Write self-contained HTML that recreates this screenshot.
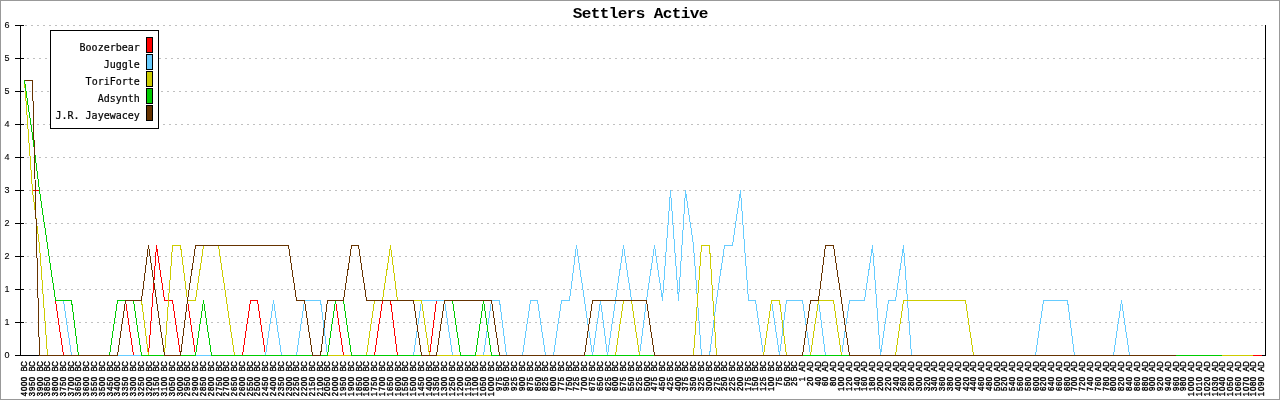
<!DOCTYPE html>
<html lang="en">
<head>
<meta charset="utf-8">
<title>Settlers Active</title>
<style>
html,body{margin:0;padding:0;background:#fff;}
body{width:1280px;height:400px;overflow:hidden;position:relative;}
svg{position:absolute;left:0;top:0;display:block;}
.t{font-family:"Liberation Mono","DejaVu Sans Mono",monospace;font-weight:bold;font-size:15px;fill:#000;letter-spacing:-0.59px;}
.l{font-family:"DejaVu Sans Mono","Liberation Mono",monospace;font-size:10px;fill:#000;stroke:#000;stroke-width:0.2px;}
.y{font-family:"Liberation Sans","DejaVu Sans Condensed",sans-serif;font-size:9px;fill:#000;stroke:#000;stroke-width:0.1px;text-anchor:middle;}
.x{font-family:"Liberation Sans","DejaVu Sans Condensed",sans-serif;font-size:8.5px;fill:#000;stroke:#000;stroke-width:0.4px;text-anchor:middle;}
</style>
</head>
<body>
<svg width="1280" height="400" viewBox="0 0 1280 400">
<rect x="0" y="0" width="1280" height="400" fill="#ffffff"/>
<rect x="0.5" y="0.5" width="1279" height="399" fill="none" stroke="#999999" stroke-width="1" shape-rendering="crispEdges"/>
<text class="t" transform="translate(640.2,18) scale(1.07,1)" x="0" y="0" text-anchor="middle">Settlers Active</text>
<g stroke="#c0c0c0" stroke-width="1" stroke-dasharray="2 4" shape-rendering="crispEdges">
<line x1="25" y1="25.5" x2="1265" y2="25.5" stroke-dashoffset="0"/>
<line x1="25" y1="58.5" x2="1265" y2="58.5" stroke-dashoffset="4"/>
<line x1="25" y1="91.5" x2="1265" y2="91.5" stroke-dashoffset="2"/>
<line x1="25" y1="124.5" x2="1265" y2="124.5" stroke-dashoffset="0"/>
<line x1="25" y1="157.5" x2="1265" y2="157.5" stroke-dashoffset="4"/>
<line x1="25" y1="190.5" x2="1265" y2="190.5" stroke-dashoffset="2"/>
<line x1="25" y1="223.5" x2="1265" y2="223.5" stroke-dashoffset="0"/>
<line x1="25" y1="256.5" x2="1265" y2="256.5" stroke-dashoffset="4"/>
<line x1="25" y1="289.5" x2="1265" y2="289.5" stroke-dashoffset="2"/>
<line x1="25" y1="322.5" x2="1265" y2="322.5" stroke-dashoffset="0"/>
</g>
<g stroke="#000000" stroke-width="1" shape-rendering="crispEdges" fill="none">
<line x1="20.5" y1="25" x2="20.5" y2="356"/>
<line x1="1265.5" y1="25" x2="1265.5" y2="356"/>
<line x1="15" y1="355.5" x2="1266" y2="355.5"/>
<line x1="15" y1="25.5" x2="24" y2="25.5"/>
<line x1="15" y1="58.5" x2="24" y2="58.5"/>
<line x1="15" y1="91.5" x2="24" y2="91.5"/>
<line x1="15" y1="124.5" x2="24" y2="124.5"/>
<line x1="15" y1="157.5" x2="24" y2="157.5"/>
<line x1="15" y1="190.5" x2="24" y2="190.5"/>
<line x1="15" y1="223.5" x2="24" y2="223.5"/>
<line x1="15" y1="256.5" x2="24" y2="256.5"/>
<line x1="15" y1="289.5" x2="24" y2="289.5"/>
<line x1="15" y1="322.5" x2="24" y2="322.5"/>
<line x1="15" y1="355.5" x2="24" y2="355.5"/>
</g>
<g>
<text class="y" x="7" y="28">6</text>
<text class="y" x="7" y="61">5</text>
<text class="y" x="7" y="94">5</text>
<text class="y" x="7" y="127">4</text>
<text class="y" x="7" y="160">4</text>
<text class="y" x="7" y="193">3</text>
<text class="y" x="7" y="226">2</text>
<text class="y" x="7" y="259">2</text>
<text class="y" x="7" y="292">1</text>
<text class="y" x="7" y="325">1</text>
<text class="y" x="7" y="358">0</text>
</g>
<g fill="none" stroke-width="1" shape-rendering="crispEdges" stroke-linejoin="miter">
<polyline stroke="#ff0000" points="24.5,80.5 32.5,190.5 39.5,190.5 47.5,245.5 55.5,300.5 63.5,355.5 71.5,355.5 78.5,355.5 86.5,355.5 94.5,355.5 102.5,355.5 109.5,355.5 117.5,355.5 125.5,300.5 133.5,355.5 141.5,355.5 148.5,355.5 156.5,245.5 164.5,300.5 172.5,300.5 180.5,355.5 187.5,300.5 195.5,355.5 203.5,355.5 211.5,355.5 218.5,355.5 226.5,355.5 234.5,355.5 242.5,355.5 250.5,300.5 257.5,300.5 265.5,355.5 273.5,355.5 281.5,355.5 288.5,355.5 296.5,355.5 304.5,355.5 312.5,355.5 320.5,355.5 327.5,355.5 335.5,300.5 343.5,355.5 351.5,355.5 358.5,355.5 366.5,355.5 374.5,355.5 382.5,300.5 390.5,300.5 397.5,355.5 405.5,355.5 413.5,355.5 421.5,355.5 429.5,355.5 436.5,300.5 444.5,300.5 452.5,355.5 460.5,355.5 467.5,355.5 475.5,355.5 483.5,355.5 491.5,355.5 499.5,355.5 506.5,355.5 514.5,355.5 522.5,355.5 530.5,355.5 537.5,355.5 545.5,355.5 553.5,355.5 561.5,355.5 569.5,355.5 576.5,355.5 584.5,355.5 592.5,355.5 600.5,355.5 607.5,355.5 615.5,355.5 623.5,355.5 631.5,355.5 639.5,355.5 646.5,355.5 654.5,355.5 662.5,355.5 670.5,355.5 678.5,355.5 685.5,355.5 693.5,355.5 701.5,355.5 709.5,355.5 716.5,355.5 724.5,355.5 732.5,355.5 740.5,355.5 748.5,355.5 755.5,355.5 763.5,355.5 771.5,355.5 779.5,355.5 786.5,355.5 794.5,355.5 802.5,355.5 810.5,355.5 818.5,355.5 825.5,355.5 833.5,355.5 841.5,355.5 849.5,355.5 856.5,355.5 864.5,355.5 872.5,355.5 880.5,355.5 888.5,355.5 895.5,355.5 903.5,355.5 911.5,355.5 919.5,355.5 927.5,355.5 934.5,355.5 942.5,355.5 950.5,355.5 958.5,355.5 965.5,355.5 973.5,355.5 981.5,355.5 989.5,355.5 997.5,355.5 1004.5,355.5 1012.5,355.5 1020.5,355.5 1028.5,355.5 1035.5,355.5 1043.5,355.5 1051.5,355.5 1059.5,355.5 1067.5,355.5 1074.5,355.5 1082.5,355.5 1090.5,355.5 1098.5,355.5 1105.5,355.5 1113.5,355.5 1121.5,355.5 1129.5,355.5 1137.5,355.5 1144.5,355.5 1152.5,355.5 1160.5,355.5 1168.5,355.5 1176.5,355.5 1183.5,355.5 1191.5,355.5 1199.5,355.5 1207.5,355.5 1214.5,355.5 1222.5,355.5 1230.5,355.5 1238.5,355.5 1246.5,355.5 1253.5,355.5 1261.5,355.5"/>
<polyline stroke="#66ccff" points="24.5,80.5 32.5,135.5 39.5,190.5 47.5,245.5 55.5,300.5 63.5,300.5 71.5,355.5 78.5,355.5 86.5,355.5 94.5,355.5 102.5,355.5 109.5,355.5 117.5,355.5 125.5,355.5 133.5,355.5 141.5,355.5 148.5,355.5 156.5,355.5 164.5,355.5 172.5,355.5 180.5,355.5 187.5,355.5 195.5,355.5 203.5,355.5 211.5,355.5 218.5,355.5 226.5,355.5 234.5,355.5 242.5,355.5 250.5,355.5 257.5,355.5 265.5,355.5 273.5,300.5 281.5,355.5 288.5,355.5 296.5,355.5 304.5,300.5 312.5,300.5 320.5,300.5 327.5,355.5 335.5,355.5 343.5,355.5 351.5,355.5 358.5,355.5 366.5,355.5 374.5,355.5 382.5,355.5 390.5,355.5 397.5,355.5 405.5,355.5 413.5,355.5 421.5,300.5 429.5,300.5 436.5,300.5 444.5,300.5 452.5,355.5 460.5,355.5 467.5,355.5 475.5,355.5 483.5,355.5 491.5,300.5 499.5,300.5 506.5,355.5 514.5,355.5 522.5,355.5 530.5,300.5 537.5,300.5 545.5,355.5 553.5,355.5 561.5,300.5 569.5,300.5 576.5,245.5 584.5,300.5 592.5,355.5 600.5,300.5 607.5,355.5 615.5,300.5 623.5,245.5 631.5,300.5 639.5,355.5 646.5,300.5 654.5,245.5 662.5,300.5 670.5,190.5 678.5,300.5 685.5,190.5 693.5,245.5 701.5,355.5 709.5,355.5 716.5,300.5 724.5,245.5 732.5,245.5 740.5,190.5 748.5,300.5 755.5,300.5 763.5,355.5 771.5,300.5 779.5,355.5 786.5,300.5 794.5,300.5 802.5,300.5 810.5,355.5 818.5,300.5 825.5,355.5 833.5,355.5 841.5,355.5 849.5,300.5 856.5,300.5 864.5,300.5 872.5,245.5 880.5,355.5 888.5,300.5 895.5,300.5 903.5,245.5 911.5,355.5 919.5,355.5 927.5,355.5 934.5,355.5 942.5,355.5 950.5,355.5 958.5,355.5 965.5,355.5 973.5,355.5 981.5,355.5 989.5,355.5 997.5,355.5 1004.5,355.5 1012.5,355.5 1020.5,355.5 1028.5,355.5 1035.5,355.5 1043.5,300.5 1051.5,300.5 1059.5,300.5 1067.5,300.5 1074.5,355.5 1082.5,355.5 1090.5,355.5 1098.5,355.5 1105.5,355.5 1113.5,355.5 1121.5,300.5 1129.5,355.5 1137.5,355.5 1144.5,355.5 1152.5,355.5 1160.5,355.5 1168.5,355.5 1176.5,355.5 1183.5,355.5 1191.5,355.5 1199.5,355.5 1207.5,355.5 1214.5,355.5 1222.5,355.5 1230.5,355.5 1238.5,355.5 1246.5,355.5 1252.5,355.5"/>
<polyline stroke="#cccc00" points="24.5,80.5 32.5,190.5 39.5,245.5 47.5,355.5 55.5,355.5 63.5,355.5 71.5,355.5 78.5,355.5 86.5,355.5 94.5,355.5 102.5,355.5 109.5,355.5 117.5,300.5 125.5,300.5 133.5,300.5 141.5,300.5 148.5,355.5 156.5,355.5 164.5,355.5 172.5,245.5 180.5,245.5 187.5,300.5 195.5,300.5 203.5,245.5 211.5,245.5 218.5,245.5 226.5,300.5 234.5,355.5 242.5,355.5 250.5,355.5 257.5,355.5 265.5,355.5 273.5,355.5 281.5,355.5 288.5,355.5 296.5,355.5 304.5,355.5 312.5,355.5 320.5,355.5 327.5,355.5 335.5,355.5 343.5,355.5 351.5,355.5 358.5,355.5 366.5,355.5 374.5,300.5 382.5,300.5 390.5,245.5 397.5,300.5 405.5,300.5 413.5,300.5 421.5,300.5 429.5,355.5 436.5,355.5 444.5,355.5 452.5,355.5 460.5,355.5 467.5,355.5 475.5,355.5 483.5,355.5 491.5,355.5 499.5,355.5 506.5,355.5 514.5,355.5 522.5,355.5 530.5,355.5 537.5,355.5 545.5,355.5 553.5,355.5 561.5,355.5 569.5,355.5 576.5,355.5 584.5,355.5 592.5,355.5 600.5,355.5 607.5,355.5 615.5,355.5 623.5,300.5 631.5,300.5 639.5,355.5 646.5,355.5 654.5,355.5 662.5,355.5 670.5,355.5 678.5,355.5 685.5,355.5 693.5,355.5 701.5,245.5 709.5,245.5 716.5,355.5 724.5,355.5 732.5,355.5 740.5,355.5 748.5,355.5 755.5,355.5 763.5,355.5 771.5,300.5 779.5,300.5 786.5,355.5 794.5,355.5 802.5,355.5 810.5,355.5 818.5,300.5 825.5,300.5 833.5,300.5 841.5,355.5 849.5,355.5 856.5,355.5 864.5,355.5 872.5,355.5 880.5,355.5 888.5,355.5 895.5,355.5 903.5,300.5 911.5,300.5 919.5,300.5 927.5,300.5 934.5,300.5 942.5,300.5 950.5,300.5 958.5,300.5 965.5,300.5 973.5,355.5 981.5,355.5 989.5,355.5 997.5,355.5 1004.5,355.5 1012.5,355.5 1020.5,355.5 1028.5,355.5 1035.5,355.5 1043.5,355.5 1051.5,355.5 1059.5,355.5 1067.5,355.5 1074.5,355.5 1082.5,355.5 1090.5,355.5 1098.5,355.5 1105.5,355.5 1113.5,355.5 1121.5,355.5 1129.5,355.5 1137.5,355.5 1144.5,355.5 1152.5,355.5 1160.5,355.5 1168.5,355.5 1176.5,355.5 1183.5,355.5 1191.5,355.5 1199.5,355.5 1207.5,355.5 1214.5,355.5 1222.5,355.5 1230.5,355.5 1238.5,355.5 1246.5,355.5 1252.5,355.5"/>
<polyline stroke="#00cc00" points="24.5,80.5 32.5,135.5 39.5,190.5 47.5,245.5 55.5,300.5 63.5,300.5 71.5,300.5 78.5,355.5 86.5,355.5 94.5,355.5 102.5,355.5 109.5,355.5 117.5,300.5 125.5,300.5 133.5,300.5 141.5,355.5 148.5,355.5 156.5,355.5 164.5,355.5 172.5,355.5 180.5,355.5 187.5,355.5 195.5,355.5 203.5,300.5 211.5,355.5 218.5,355.5 226.5,355.5 234.5,355.5 242.5,355.5 250.5,355.5 257.5,355.5 265.5,355.5 273.5,355.5 281.5,355.5 288.5,355.5 296.5,355.5 304.5,355.5 312.5,355.5 320.5,355.5 327.5,355.5 335.5,300.5 343.5,300.5 351.5,355.5 358.5,355.5 366.5,355.5 374.5,355.5 382.5,355.5 390.5,355.5 397.5,355.5 405.5,355.5 413.5,355.5 421.5,355.5 429.5,355.5 436.5,355.5 444.5,300.5 452.5,300.5 460.5,355.5 467.5,355.5 475.5,355.5 483.5,300.5 491.5,355.5 499.5,355.5 506.5,355.5 514.5,355.5 522.5,355.5 530.5,355.5 537.5,355.5 545.5,355.5 553.5,355.5 561.5,355.5 569.5,355.5 576.5,355.5 584.5,355.5 592.5,355.5 600.5,355.5 607.5,355.5 615.5,355.5 623.5,355.5 631.5,355.5 639.5,355.5 646.5,355.5 654.5,355.5 662.5,355.5 670.5,355.5 678.5,355.5 685.5,355.5 693.5,355.5 701.5,355.5 709.5,355.5 716.5,355.5 724.5,355.5 732.5,355.5 740.5,355.5 748.5,355.5 755.5,355.5 763.5,355.5 771.5,355.5 779.5,355.5 786.5,355.5 794.5,355.5 802.5,355.5 810.5,355.5 818.5,355.5 825.5,355.5 833.5,355.5 841.5,355.5 849.5,355.5 856.5,355.5 864.5,355.5 872.5,355.5 880.5,355.5 888.5,355.5 895.5,355.5 903.5,355.5 911.5,355.5 919.5,355.5 927.5,355.5 934.5,355.5 942.5,355.5 950.5,355.5 958.5,355.5 965.5,355.5 973.5,355.5 981.5,355.5 989.5,355.5 997.5,355.5 1004.5,355.5 1012.5,355.5 1020.5,355.5 1028.5,355.5 1035.5,355.5 1043.5,355.5 1051.5,355.5 1059.5,355.5 1067.5,355.5 1074.5,355.5 1082.5,355.5 1090.5,355.5 1098.5,355.5 1105.5,355.5 1113.5,355.5 1121.5,355.5 1129.5,355.5 1137.5,355.5 1144.5,355.5 1152.5,355.5 1160.5,355.5 1168.5,355.5 1176.5,355.5 1183.5,355.5 1191.5,355.5 1199.5,355.5 1207.5,355.5 1214.5,355.5 1221.5,355.5"/>
<polyline stroke="#663300" points="24.5,80.5 32.5,80.5 39.5,355.5 47.5,355.5 55.5,355.5 63.5,355.5 71.5,355.5 78.5,355.5 86.5,355.5 94.5,355.5 102.5,355.5 109.5,355.5 117.5,355.5 125.5,300.5 133.5,300.5 141.5,300.5 148.5,245.5 156.5,300.5 164.5,355.5 172.5,355.5 180.5,355.5 187.5,300.5 195.5,245.5 203.5,245.5 211.5,245.5 218.5,245.5 226.5,245.5 234.5,245.5 242.5,245.5 250.5,245.5 257.5,245.5 265.5,245.5 273.5,245.5 281.5,245.5 288.5,245.5 296.5,300.5 304.5,300.5 312.5,355.5 320.5,355.5 327.5,300.5 335.5,300.5 343.5,300.5 351.5,245.5 358.5,245.5 366.5,300.5 374.5,300.5 382.5,300.5 390.5,300.5 397.5,300.5 405.5,300.5 413.5,300.5 421.5,355.5 429.5,355.5 436.5,355.5 444.5,300.5 452.5,300.5 460.5,300.5 467.5,300.5 475.5,300.5 483.5,300.5 491.5,300.5 499.5,355.5 506.5,355.5 514.5,355.5 522.5,355.5 530.5,355.5 537.5,355.5 545.5,355.5 553.5,355.5 561.5,355.5 569.5,355.5 576.5,355.5 584.5,355.5 592.5,300.5 600.5,300.5 607.5,300.5 615.5,300.5 623.5,300.5 631.5,300.5 639.5,300.5 646.5,300.5 654.5,355.5 662.5,355.5 670.5,355.5 678.5,355.5 685.5,355.5 693.5,355.5 701.5,355.5 709.5,355.5 716.5,355.5 724.5,355.5 732.5,355.5 740.5,355.5 748.5,355.5 755.5,355.5 763.5,355.5 771.5,355.5 779.5,355.5 786.5,355.5 794.5,355.5 802.5,355.5 810.5,300.5 818.5,300.5 825.5,245.5 833.5,245.5 841.5,300.5 849.5,355.5 856.5,355.5 864.5,355.5 872.5,355.5 880.5,355.5 888.5,355.5 895.5,355.5 903.5,355.5 911.5,355.5 919.5,355.5 927.5,355.5 934.5,355.5 942.5,355.5 950.5,355.5 958.5,355.5 965.5,355.5 973.5,355.5 981.5,355.5 989.5,355.5 997.5,355.5 1004.5,355.5 1012.5,355.5 1020.5,355.5 1028.5,355.5 1035.5,355.5 1043.5,355.5 1051.5,355.5 1059.5,355.5 1067.5,355.5 1074.5,355.5 1082.5,355.5 1090.5,355.5 1098.5,355.5 1105.5,355.5 1113.5,355.5 1121.5,355.5 1129.5,355.5 1137.5,355.5 1144.5,355.5 1152.5,355.5 1160.5,355.5 1168.5,355.5 1175.5,355.5"/>
</g>
<g shape-rendering="crispEdges">
<rect x="50.5" y="30.5" width="108" height="98" fill="#ffffff" stroke="#000000" stroke-width="1"/>
<rect x="146.5" y="37.5" width="6" height="15" fill="#ff0000" stroke="#000000" stroke-width="1"/>
<rect x="146.5" y="54.5" width="6" height="15" fill="#66ccff" stroke="#000000" stroke-width="1"/>
<rect x="146.5" y="71.5" width="6" height="15" fill="#cccc00" stroke="#000000" stroke-width="1"/>
<rect x="146.5" y="88.5" width="6" height="15" fill="#00cc00" stroke="#000000" stroke-width="1"/>
<rect x="146.5" y="105.5" width="6" height="15" fill="#663300" stroke="#000000" stroke-width="1"/>
</g>
<g>
<text class="l" x="139.8" y="51" text-anchor="end">Boozerbear</text>
<text class="l" x="139.8" y="68" text-anchor="end">Juggle</text>
<text class="l" x="139.8" y="85" text-anchor="end">ToriForte</text>
<text class="l" x="139.8" y="102" text-anchor="end">Adsynth</text>
<text class="l" x="139.8" y="119" text-anchor="end">J.R. Jayewacey</text>
</g>
<g>
<text class="x" transform="translate(26.90,362) rotate(-90) scale(0.9,1)" x="-35.56 -30.00 -24.44 -18.89 -13.33 -7.78 -2.22">4000 BC</text>
<text class="x" transform="translate(34.90,362) rotate(-90) scale(0.9,1)" x="-35.56 -30.00 -24.44 -18.89 -13.33 -7.78 -2.22">3950 BC</text>
<text class="x" transform="translate(42.90,362) rotate(-90) scale(0.9,1)" x="-35.56 -30.00 -24.44 -18.89 -13.33 -7.78 -2.22">3900 BC</text>
<text class="x" transform="translate(49.90,362) rotate(-90) scale(0.9,1)" x="-35.56 -30.00 -24.44 -18.89 -13.33 -7.78 -2.22">3850 BC</text>
<text class="x" transform="translate(57.90,362) rotate(-90) scale(0.9,1)" x="-35.56 -30.00 -24.44 -18.89 -13.33 -7.78 -2.22">3800 BC</text>
<text class="x" transform="translate(65.90,362) rotate(-90) scale(0.9,1)" x="-35.56 -30.00 -24.44 -18.89 -13.33 -7.78 -2.22">3750 BC</text>
<text class="x" transform="translate(73.90,362) rotate(-90) scale(0.9,1)" x="-35.56 -30.00 -24.44 -18.89 -13.33 -7.78 -2.22">3700 BC</text>
<text class="x" transform="translate(80.90,362) rotate(-90) scale(0.9,1)" x="-35.56 -30.00 -24.44 -18.89 -13.33 -7.78 -2.22">3650 BC</text>
<text class="x" transform="translate(88.90,362) rotate(-90) scale(0.9,1)" x="-35.56 -30.00 -24.44 -18.89 -13.33 -7.78 -2.22">3600 BC</text>
<text class="x" transform="translate(96.90,362) rotate(-90) scale(0.9,1)" x="-35.56 -30.00 -24.44 -18.89 -13.33 -7.78 -2.22">3550 BC</text>
<text class="x" transform="translate(104.90,362) rotate(-90) scale(0.9,1)" x="-35.56 -30.00 -24.44 -18.89 -13.33 -7.78 -2.22">3500 BC</text>
<text class="x" transform="translate(112.90,362) rotate(-90) scale(0.9,1)" x="-35.56 -30.00 -24.44 -18.89 -13.33 -7.78 -2.22">3450 BC</text>
<text class="x" transform="translate(119.90,362) rotate(-90) scale(0.9,1)" x="-35.56 -30.00 -24.44 -18.89 -13.33 -7.78 -2.22">3400 BC</text>
<text class="x" transform="translate(127.90,362) rotate(-90) scale(0.9,1)" x="-35.56 -30.00 -24.44 -18.89 -13.33 -7.78 -2.22">3350 BC</text>
<text class="x" transform="translate(135.90,362) rotate(-90) scale(0.9,1)" x="-35.56 -30.00 -24.44 -18.89 -13.33 -7.78 -2.22">3300 BC</text>
<text class="x" transform="translate(143.90,362) rotate(-90) scale(0.9,1)" x="-35.56 -30.00 -24.44 -18.89 -13.33 -7.78 -2.22">3250 BC</text>
<text class="x" transform="translate(151.90,362) rotate(-90) scale(0.9,1)" x="-35.56 -30.00 -24.44 -18.89 -13.33 -7.78 -2.22">3200 BC</text>
<text class="x" transform="translate(158.90,362) rotate(-90) scale(0.9,1)" x="-35.56 -30.00 -24.44 -18.89 -13.33 -7.78 -2.22">3150 BC</text>
<text class="x" transform="translate(166.90,362) rotate(-90) scale(0.9,1)" x="-35.56 -30.00 -24.44 -18.89 -13.33 -7.78 -2.22">3100 BC</text>
<text class="x" transform="translate(174.90,362) rotate(-90) scale(0.9,1)" x="-35.56 -30.00 -24.44 -18.89 -13.33 -7.78 -2.22">3050 BC</text>
<text class="x" transform="translate(182.90,362) rotate(-90) scale(0.9,1)" x="-35.56 -30.00 -24.44 -18.89 -13.33 -7.78 -2.22">3000 BC</text>
<text class="x" transform="translate(189.90,362) rotate(-90) scale(0.9,1)" x="-35.56 -30.00 -24.44 -18.89 -13.33 -7.78 -2.22">2950 BC</text>
<text class="x" transform="translate(197.90,362) rotate(-90) scale(0.9,1)" x="-35.56 -30.00 -24.44 -18.89 -13.33 -7.78 -2.22">2900 BC</text>
<text class="x" transform="translate(205.90,362) rotate(-90) scale(0.9,1)" x="-35.56 -30.00 -24.44 -18.89 -13.33 -7.78 -2.22">2850 BC</text>
<text class="x" transform="translate(213.90,362) rotate(-90) scale(0.9,1)" x="-35.56 -30.00 -24.44 -18.89 -13.33 -7.78 -2.22">2800 BC</text>
<text class="x" transform="translate(221.90,362) rotate(-90) scale(0.9,1)" x="-35.56 -30.00 -24.44 -18.89 -13.33 -7.78 -2.22">2750 BC</text>
<text class="x" transform="translate(228.90,362) rotate(-90) scale(0.9,1)" x="-35.56 -30.00 -24.44 -18.89 -13.33 -7.78 -2.22">2700 BC</text>
<text class="x" transform="translate(236.90,362) rotate(-90) scale(0.9,1)" x="-35.56 -30.00 -24.44 -18.89 -13.33 -7.78 -2.22">2650 BC</text>
<text class="x" transform="translate(244.90,362) rotate(-90) scale(0.9,1)" x="-35.56 -30.00 -24.44 -18.89 -13.33 -7.78 -2.22">2600 BC</text>
<text class="x" transform="translate(252.90,362) rotate(-90) scale(0.9,1)" x="-35.56 -30.00 -24.44 -18.89 -13.33 -7.78 -2.22">2550 BC</text>
<text class="x" transform="translate(259.90,362) rotate(-90) scale(0.9,1)" x="-35.56 -30.00 -24.44 -18.89 -13.33 -7.78 -2.22">2500 BC</text>
<text class="x" transform="translate(267.90,362) rotate(-90) scale(0.9,1)" x="-35.56 -30.00 -24.44 -18.89 -13.33 -7.78 -2.22">2450 BC</text>
<text class="x" transform="translate(275.90,362) rotate(-90) scale(0.9,1)" x="-35.56 -30.00 -24.44 -18.89 -13.33 -7.78 -2.22">2400 BC</text>
<text class="x" transform="translate(283.90,362) rotate(-90) scale(0.9,1)" x="-35.56 -30.00 -24.44 -18.89 -13.33 -7.78 -2.22">2350 BC</text>
<text class="x" transform="translate(291.90,362) rotate(-90) scale(0.9,1)" x="-35.56 -30.00 -24.44 -18.89 -13.33 -7.78 -2.22">2300 BC</text>
<text class="x" transform="translate(298.90,362) rotate(-90) scale(0.9,1)" x="-35.56 -30.00 -24.44 -18.89 -13.33 -7.78 -2.22">2250 BC</text>
<text class="x" transform="translate(306.90,362) rotate(-90) scale(0.9,1)" x="-35.56 -30.00 -24.44 -18.89 -13.33 -7.78 -2.22">2200 BC</text>
<text class="x" transform="translate(314.90,362) rotate(-90) scale(0.9,1)" x="-35.56 -30.00 -24.44 -18.89 -13.33 -7.78 -2.22">2150 BC</text>
<text class="x" transform="translate(322.90,362) rotate(-90) scale(0.9,1)" x="-35.56 -30.00 -24.44 -18.89 -13.33 -7.78 -2.22">2100 BC</text>
<text class="x" transform="translate(329.90,362) rotate(-90) scale(0.9,1)" x="-35.56 -30.00 -24.44 -18.89 -13.33 -7.78 -2.22">2050 BC</text>
<text class="x" transform="translate(337.90,362) rotate(-90) scale(0.9,1)" x="-35.56 -30.00 -24.44 -18.89 -13.33 -7.78 -2.22">2000 BC</text>
<text class="x" transform="translate(345.90,362) rotate(-90) scale(0.9,1)" x="-35.56 -30.00 -24.44 -18.89 -13.33 -7.78 -2.22">1950 BC</text>
<text class="x" transform="translate(353.90,362) rotate(-90) scale(0.9,1)" x="-35.56 -30.00 -24.44 -18.89 -13.33 -7.78 -2.22">1900 BC</text>
<text class="x" transform="translate(361.90,362) rotate(-90) scale(0.9,1)" x="-35.56 -30.00 -24.44 -18.89 -13.33 -7.78 -2.22">1850 BC</text>
<text class="x" transform="translate(368.90,362) rotate(-90) scale(0.9,1)" x="-35.56 -30.00 -24.44 -18.89 -13.33 -7.78 -2.22">1800 BC</text>
<text class="x" transform="translate(376.90,362) rotate(-90) scale(0.9,1)" x="-35.56 -30.00 -24.44 -18.89 -13.33 -7.78 -2.22">1750 BC</text>
<text class="x" transform="translate(384.90,362) rotate(-90) scale(0.9,1)" x="-35.56 -30.00 -24.44 -18.89 -13.33 -7.78 -2.22">1700 BC</text>
<text class="x" transform="translate(392.90,362) rotate(-90) scale(0.9,1)" x="-35.56 -30.00 -24.44 -18.89 -13.33 -7.78 -2.22">1650 BC</text>
<text class="x" transform="translate(400.90,362) rotate(-90) scale(0.9,1)" x="-35.56 -30.00 -24.44 -18.89 -13.33 -7.78 -2.22">1600 BC</text>
<text class="x" transform="translate(407.90,362) rotate(-90) scale(0.9,1)" x="-35.56 -30.00 -24.44 -18.89 -13.33 -7.78 -2.22">1550 BC</text>
<text class="x" transform="translate(415.90,362) rotate(-90) scale(0.9,1)" x="-35.56 -30.00 -24.44 -18.89 -13.33 -7.78 -2.22">1500 BC</text>
<text class="x" transform="translate(423.90,362) rotate(-90) scale(0.9,1)" x="-35.56 -30.00 -24.44 -18.89 -13.33 -7.78 -2.22">1450 BC</text>
<text class="x" transform="translate(431.90,362) rotate(-90) scale(0.9,1)" x="-35.56 -30.00 -24.44 -18.89 -13.33 -7.78 -2.22">1400 BC</text>
<text class="x" transform="translate(438.90,362) rotate(-90) scale(0.9,1)" x="-35.56 -30.00 -24.44 -18.89 -13.33 -7.78 -2.22">1350 BC</text>
<text class="x" transform="translate(446.90,362) rotate(-90) scale(0.9,1)" x="-35.56 -30.00 -24.44 -18.89 -13.33 -7.78 -2.22">1300 BC</text>
<text class="x" transform="translate(454.90,362) rotate(-90) scale(0.9,1)" x="-35.56 -30.00 -24.44 -18.89 -13.33 -7.78 -2.22">1250 BC</text>
<text class="x" transform="translate(462.90,362) rotate(-90) scale(0.9,1)" x="-35.56 -30.00 -24.44 -18.89 -13.33 -7.78 -2.22">1200 BC</text>
<text class="x" transform="translate(470.90,362) rotate(-90) scale(0.9,1)" x="-35.56 -30.00 -24.44 -18.89 -13.33 -7.78 -2.22">1150 BC</text>
<text class="x" transform="translate(477.90,362) rotate(-90) scale(0.9,1)" x="-35.56 -30.00 -24.44 -18.89 -13.33 -7.78 -2.22">1100 BC</text>
<text class="x" transform="translate(485.90,362) rotate(-90) scale(0.9,1)" x="-35.56 -30.00 -24.44 -18.89 -13.33 -7.78 -2.22">1050 BC</text>
<text class="x" transform="translate(493.90,362) rotate(-90) scale(0.9,1)" x="-35.56 -30.00 -24.44 -18.89 -13.33 -7.78 -2.22">1000 BC</text>
<text class="x" transform="translate(501.90,362) rotate(-90) scale(0.9,1)" x="-30.00 -24.44 -18.89 -13.33 -7.78 -2.22">975 BC</text>
<text class="x" transform="translate(508.90,362) rotate(-90) scale(0.9,1)" x="-30.00 -24.44 -18.89 -13.33 -7.78 -2.22">950 BC</text>
<text class="x" transform="translate(516.90,362) rotate(-90) scale(0.9,1)" x="-30.00 -24.44 -18.89 -13.33 -7.78 -2.22">925 BC</text>
<text class="x" transform="translate(524.90,362) rotate(-90) scale(0.9,1)" x="-30.00 -24.44 -18.89 -13.33 -7.78 -2.22">900 BC</text>
<text class="x" transform="translate(532.90,362) rotate(-90) scale(0.9,1)" x="-30.00 -24.44 -18.89 -13.33 -7.78 -2.22">875 BC</text>
<text class="x" transform="translate(540.90,362) rotate(-90) scale(0.9,1)" x="-30.00 -24.44 -18.89 -13.33 -7.78 -2.22">850 BC</text>
<text class="x" transform="translate(547.90,362) rotate(-90) scale(0.9,1)" x="-30.00 -24.44 -18.89 -13.33 -7.78 -2.22">825 BC</text>
<text class="x" transform="translate(555.90,362) rotate(-90) scale(0.9,1)" x="-30.00 -24.44 -18.89 -13.33 -7.78 -2.22">800 BC</text>
<text class="x" transform="translate(563.90,362) rotate(-90) scale(0.9,1)" x="-30.00 -24.44 -18.89 -13.33 -7.78 -2.22">775 BC</text>
<text class="x" transform="translate(571.90,362) rotate(-90) scale(0.9,1)" x="-30.00 -24.44 -18.89 -13.33 -7.78 -2.22">750 BC</text>
<text class="x" transform="translate(578.90,362) rotate(-90) scale(0.9,1)" x="-30.00 -24.44 -18.89 -13.33 -7.78 -2.22">725 BC</text>
<text class="x" transform="translate(586.90,362) rotate(-90) scale(0.9,1)" x="-30.00 -24.44 -18.89 -13.33 -7.78 -2.22">700 BC</text>
<text class="x" transform="translate(594.90,362) rotate(-90) scale(0.9,1)" x="-30.00 -24.44 -18.89 -13.33 -7.78 -2.22">675 BC</text>
<text class="x" transform="translate(602.90,362) rotate(-90) scale(0.9,1)" x="-30.00 -24.44 -18.89 -13.33 -7.78 -2.22">650 BC</text>
<text class="x" transform="translate(610.90,362) rotate(-90) scale(0.9,1)" x="-30.00 -24.44 -18.89 -13.33 -7.78 -2.22">625 BC</text>
<text class="x" transform="translate(617.90,362) rotate(-90) scale(0.9,1)" x="-30.00 -24.44 -18.89 -13.33 -7.78 -2.22">600 BC</text>
<text class="x" transform="translate(625.90,362) rotate(-90) scale(0.9,1)" x="-30.00 -24.44 -18.89 -13.33 -7.78 -2.22">575 BC</text>
<text class="x" transform="translate(633.90,362) rotate(-90) scale(0.9,1)" x="-30.00 -24.44 -18.89 -13.33 -7.78 -2.22">550 BC</text>
<text class="x" transform="translate(641.90,362) rotate(-90) scale(0.9,1)" x="-30.00 -24.44 -18.89 -13.33 -7.78 -2.22">525 BC</text>
<text class="x" transform="translate(649.90,362) rotate(-90) scale(0.9,1)" x="-30.00 -24.44 -18.89 -13.33 -7.78 -2.22">500 BC</text>
<text class="x" transform="translate(656.90,362) rotate(-90) scale(0.9,1)" x="-30.00 -24.44 -18.89 -13.33 -7.78 -2.22">475 BC</text>
<text class="x" transform="translate(664.90,362) rotate(-90) scale(0.9,1)" x="-30.00 -24.44 -18.89 -13.33 -7.78 -2.22">450 BC</text>
<text class="x" transform="translate(672.90,362) rotate(-90) scale(0.9,1)" x="-30.00 -24.44 -18.89 -13.33 -7.78 -2.22">425 BC</text>
<text class="x" transform="translate(680.90,362) rotate(-90) scale(0.9,1)" x="-30.00 -24.44 -18.89 -13.33 -7.78 -2.22">400 BC</text>
<text class="x" transform="translate(687.90,362) rotate(-90) scale(0.9,1)" x="-30.00 -24.44 -18.89 -13.33 -7.78 -2.22">375 BC</text>
<text class="x" transform="translate(695.90,362) rotate(-90) scale(0.9,1)" x="-30.00 -24.44 -18.89 -13.33 -7.78 -2.22">350 BC</text>
<text class="x" transform="translate(703.90,362) rotate(-90) scale(0.9,1)" x="-30.00 -24.44 -18.89 -13.33 -7.78 -2.22">325 BC</text>
<text class="x" transform="translate(711.90,362) rotate(-90) scale(0.9,1)" x="-30.00 -24.44 -18.89 -13.33 -7.78 -2.22">300 BC</text>
<text class="x" transform="translate(719.90,362) rotate(-90) scale(0.9,1)" x="-30.00 -24.44 -18.89 -13.33 -7.78 -2.22">275 BC</text>
<text class="x" transform="translate(726.90,362) rotate(-90) scale(0.9,1)" x="-30.00 -24.44 -18.89 -13.33 -7.78 -2.22">250 BC</text>
<text class="x" transform="translate(734.90,362) rotate(-90) scale(0.9,1)" x="-30.00 -24.44 -18.89 -13.33 -7.78 -2.22">225 BC</text>
<text class="x" transform="translate(742.90,362) rotate(-90) scale(0.9,1)" x="-30.00 -24.44 -18.89 -13.33 -7.78 -2.22">200 BC</text>
<text class="x" transform="translate(750.90,362) rotate(-90) scale(0.9,1)" x="-30.00 -24.44 -18.89 -13.33 -7.78 -2.22">175 BC</text>
<text class="x" transform="translate(757.90,362) rotate(-90) scale(0.9,1)" x="-30.00 -24.44 -18.89 -13.33 -7.78 -2.22">150 BC</text>
<text class="x" transform="translate(765.90,362) rotate(-90) scale(0.9,1)" x="-30.00 -24.44 -18.89 -13.33 -7.78 -2.22">125 BC</text>
<text class="x" transform="translate(773.90,362) rotate(-90) scale(0.9,1)" x="-30.00 -24.44 -18.89 -13.33 -7.78 -2.22">100 BC</text>
<text class="x" transform="translate(781.90,362) rotate(-90) scale(0.9,1)" x="-24.44 -18.89 -13.33 -7.78 -2.22">75 BC</text>
<text class="x" transform="translate(789.90,362) rotate(-90) scale(0.9,1)" x="-24.44 -18.89 -13.33 -7.78 -2.22">50 BC</text>
<text class="x" transform="translate(796.90,362) rotate(-90) scale(0.9,1)" x="-24.44 -18.89 -13.33 -7.78 -2.22">25 BC</text>
<text class="x" transform="translate(804.90,362) rotate(-90) scale(0.9,1)" x="-18.89 -13.33 -7.78 -2.22">1 AD</text>
<text class="x" transform="translate(812.90,362) rotate(-90) scale(0.9,1)" x="-24.44 -18.89 -13.33 -7.78 -2.22">20 AD</text>
<text class="x" transform="translate(820.90,362) rotate(-90) scale(0.9,1)" x="-24.44 -18.89 -13.33 -7.78 -2.22">40 AD</text>
<text class="x" transform="translate(827.90,362) rotate(-90) scale(0.9,1)" x="-24.44 -18.89 -13.33 -7.78 -2.22">60 AD</text>
<text class="x" transform="translate(835.90,362) rotate(-90) scale(0.9,1)" x="-24.44 -18.89 -13.33 -7.78 -2.22">80 AD</text>
<text class="x" transform="translate(843.90,362) rotate(-90) scale(0.9,1)" x="-30.00 -24.44 -18.89 -13.33 -7.78 -2.22">100 AD</text>
<text class="x" transform="translate(851.90,362) rotate(-90) scale(0.9,1)" x="-30.00 -24.44 -18.89 -13.33 -7.78 -2.22">120 AD</text>
<text class="x" transform="translate(859.90,362) rotate(-90) scale(0.9,1)" x="-30.00 -24.44 -18.89 -13.33 -7.78 -2.22">140 AD</text>
<text class="x" transform="translate(866.90,362) rotate(-90) scale(0.9,1)" x="-30.00 -24.44 -18.89 -13.33 -7.78 -2.22">160 AD</text>
<text class="x" transform="translate(874.90,362) rotate(-90) scale(0.9,1)" x="-30.00 -24.44 -18.89 -13.33 -7.78 -2.22">180 AD</text>
<text class="x" transform="translate(882.90,362) rotate(-90) scale(0.9,1)" x="-30.00 -24.44 -18.89 -13.33 -7.78 -2.22">200 AD</text>
<text class="x" transform="translate(890.90,362) rotate(-90) scale(0.9,1)" x="-30.00 -24.44 -18.89 -13.33 -7.78 -2.22">220 AD</text>
<text class="x" transform="translate(898.90,362) rotate(-90) scale(0.9,1)" x="-30.00 -24.44 -18.89 -13.33 -7.78 -2.22">240 AD</text>
<text class="x" transform="translate(905.90,362) rotate(-90) scale(0.9,1)" x="-30.00 -24.44 -18.89 -13.33 -7.78 -2.22">260 AD</text>
<text class="x" transform="translate(913.90,362) rotate(-90) scale(0.9,1)" x="-30.00 -24.44 -18.89 -13.33 -7.78 -2.22">280 AD</text>
<text class="x" transform="translate(921.90,362) rotate(-90) scale(0.9,1)" x="-30.00 -24.44 -18.89 -13.33 -7.78 -2.22">300 AD</text>
<text class="x" transform="translate(929.90,362) rotate(-90) scale(0.9,1)" x="-30.00 -24.44 -18.89 -13.33 -7.78 -2.22">320 AD</text>
<text class="x" transform="translate(936.90,362) rotate(-90) scale(0.9,1)" x="-30.00 -24.44 -18.89 -13.33 -7.78 -2.22">340 AD</text>
<text class="x" transform="translate(944.90,362) rotate(-90) scale(0.9,1)" x="-30.00 -24.44 -18.89 -13.33 -7.78 -2.22">360 AD</text>
<text class="x" transform="translate(952.90,362) rotate(-90) scale(0.9,1)" x="-30.00 -24.44 -18.89 -13.33 -7.78 -2.22">380 AD</text>
<text class="x" transform="translate(960.90,362) rotate(-90) scale(0.9,1)" x="-30.00 -24.44 -18.89 -13.33 -7.78 -2.22">400 AD</text>
<text class="x" transform="translate(968.90,362) rotate(-90) scale(0.9,1)" x="-30.00 -24.44 -18.89 -13.33 -7.78 -2.22">420 AD</text>
<text class="x" transform="translate(975.90,362) rotate(-90) scale(0.9,1)" x="-30.00 -24.44 -18.89 -13.33 -7.78 -2.22">440 AD</text>
<text class="x" transform="translate(983.90,362) rotate(-90) scale(0.9,1)" x="-30.00 -24.44 -18.89 -13.33 -7.78 -2.22">460 AD</text>
<text class="x" transform="translate(991.90,362) rotate(-90) scale(0.9,1)" x="-30.00 -24.44 -18.89 -13.33 -7.78 -2.22">480 AD</text>
<text class="x" transform="translate(999.90,362) rotate(-90) scale(0.9,1)" x="-30.00 -24.44 -18.89 -13.33 -7.78 -2.22">500 AD</text>
<text class="x" transform="translate(1006.90,362) rotate(-90) scale(0.9,1)" x="-30.00 -24.44 -18.89 -13.33 -7.78 -2.22">520 AD</text>
<text class="x" transform="translate(1014.90,362) rotate(-90) scale(0.9,1)" x="-30.00 -24.44 -18.89 -13.33 -7.78 -2.22">540 AD</text>
<text class="x" transform="translate(1022.90,362) rotate(-90) scale(0.9,1)" x="-30.00 -24.44 -18.89 -13.33 -7.78 -2.22">560 AD</text>
<text class="x" transform="translate(1030.90,362) rotate(-90) scale(0.9,1)" x="-30.00 -24.44 -18.89 -13.33 -7.78 -2.22">580 AD</text>
<text class="x" transform="translate(1038.90,362) rotate(-90) scale(0.9,1)" x="-30.00 -24.44 -18.89 -13.33 -7.78 -2.22">600 AD</text>
<text class="x" transform="translate(1045.90,362) rotate(-90) scale(0.9,1)" x="-30.00 -24.44 -18.89 -13.33 -7.78 -2.22">620 AD</text>
<text class="x" transform="translate(1053.90,362) rotate(-90) scale(0.9,1)" x="-30.00 -24.44 -18.89 -13.33 -7.78 -2.22">640 AD</text>
<text class="x" transform="translate(1061.90,362) rotate(-90) scale(0.9,1)" x="-30.00 -24.44 -18.89 -13.33 -7.78 -2.22">660 AD</text>
<text class="x" transform="translate(1069.90,362) rotate(-90) scale(0.9,1)" x="-30.00 -24.44 -18.89 -13.33 -7.78 -2.22">680 AD</text>
<text class="x" transform="translate(1076.90,362) rotate(-90) scale(0.9,1)" x="-30.00 -24.44 -18.89 -13.33 -7.78 -2.22">700 AD</text>
<text class="x" transform="translate(1084.90,362) rotate(-90) scale(0.9,1)" x="-30.00 -24.44 -18.89 -13.33 -7.78 -2.22">720 AD</text>
<text class="x" transform="translate(1092.90,362) rotate(-90) scale(0.9,1)" x="-30.00 -24.44 -18.89 -13.33 -7.78 -2.22">740 AD</text>
<text class="x" transform="translate(1100.90,362) rotate(-90) scale(0.9,1)" x="-30.00 -24.44 -18.89 -13.33 -7.78 -2.22">760 AD</text>
<text class="x" transform="translate(1108.90,362) rotate(-90) scale(0.9,1)" x="-30.00 -24.44 -18.89 -13.33 -7.78 -2.22">780 AD</text>
<text class="x" transform="translate(1115.90,362) rotate(-90) scale(0.9,1)" x="-30.00 -24.44 -18.89 -13.33 -7.78 -2.22">800 AD</text>
<text class="x" transform="translate(1123.90,362) rotate(-90) scale(0.9,1)" x="-30.00 -24.44 -18.89 -13.33 -7.78 -2.22">820 AD</text>
<text class="x" transform="translate(1131.90,362) rotate(-90) scale(0.9,1)" x="-30.00 -24.44 -18.89 -13.33 -7.78 -2.22">840 AD</text>
<text class="x" transform="translate(1139.90,362) rotate(-90) scale(0.9,1)" x="-30.00 -24.44 -18.89 -13.33 -7.78 -2.22">860 AD</text>
<text class="x" transform="translate(1147.90,362) rotate(-90) scale(0.9,1)" x="-30.00 -24.44 -18.89 -13.33 -7.78 -2.22">880 AD</text>
<text class="x" transform="translate(1154.90,362) rotate(-90) scale(0.9,1)" x="-30.00 -24.44 -18.89 -13.33 -7.78 -2.22">900 AD</text>
<text class="x" transform="translate(1162.90,362) rotate(-90) scale(0.9,1)" x="-30.00 -24.44 -18.89 -13.33 -7.78 -2.22">920 AD</text>
<text class="x" transform="translate(1170.90,362) rotate(-90) scale(0.9,1)" x="-30.00 -24.44 -18.89 -13.33 -7.78 -2.22">940 AD</text>
<text class="x" transform="translate(1178.90,362) rotate(-90) scale(0.9,1)" x="-30.00 -24.44 -18.89 -13.33 -7.78 -2.22">960 AD</text>
<text class="x" transform="translate(1185.90,362) rotate(-90) scale(0.9,1)" x="-30.00 -24.44 -18.89 -13.33 -7.78 -2.22">980 AD</text>
<text class="x" transform="translate(1193.90,362) rotate(-90) scale(0.9,1)" x="-35.56 -30.00 -24.44 -18.89 -13.33 -7.78 -2.22">1000 AD</text>
<text class="x" transform="translate(1201.90,362) rotate(-90) scale(0.9,1)" x="-35.56 -30.00 -24.44 -18.89 -13.33 -7.78 -2.22">1010 AD</text>
<text class="x" transform="translate(1209.90,362) rotate(-90) scale(0.9,1)" x="-35.56 -30.00 -24.44 -18.89 -13.33 -7.78 -2.22">1020 AD</text>
<text class="x" transform="translate(1217.90,362) rotate(-90) scale(0.9,1)" x="-35.56 -30.00 -24.44 -18.89 -13.33 -7.78 -2.22">1030 AD</text>
<text class="x" transform="translate(1224.90,362) rotate(-90) scale(0.9,1)" x="-35.56 -30.00 -24.44 -18.89 -13.33 -7.78 -2.22">1040 AD</text>
<text class="x" transform="translate(1232.90,362) rotate(-90) scale(0.9,1)" x="-35.56 -30.00 -24.44 -18.89 -13.33 -7.78 -2.22">1050 AD</text>
<text class="x" transform="translate(1240.90,362) rotate(-90) scale(0.9,1)" x="-35.56 -30.00 -24.44 -18.89 -13.33 -7.78 -2.22">1060 AD</text>
<text class="x" transform="translate(1248.90,362) rotate(-90) scale(0.9,1)" x="-35.56 -30.00 -24.44 -18.89 -13.33 -7.78 -2.22">1070 AD</text>
<text class="x" transform="translate(1255.90,362) rotate(-90) scale(0.9,1)" x="-35.56 -30.00 -24.44 -18.89 -13.33 -7.78 -2.22">1080 AD</text>
<text class="x" transform="translate(1263.90,362) rotate(-90) scale(0.9,1)" x="-35.56 -30.00 -24.44 -18.89 -13.33 -7.78 -2.22">1090 AD</text>
</g>
</svg>
</body>
</html>
